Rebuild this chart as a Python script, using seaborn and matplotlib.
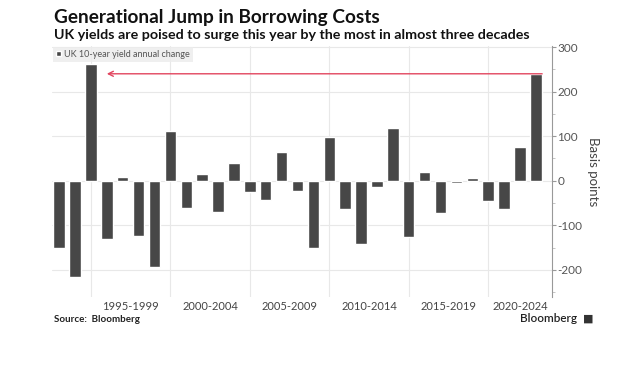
import matplotlib
matplotlib.use("Agg")
import matplotlib.pyplot as plt
import seaborn as sns
import pandas as pd

years = list(range(1992, 2023))
changes = [-151, -216, 261, -130, 8, -123, -194, 111, -61, 16, -69, 41, -26,
           -44, 64, -24, -150, 98, -63, -142, -15, 118, -127, 19, -73, -5, 7,
           -46, -63, 76, 240]
period_labels = ["1995-1999", "2000-2004", "2005-2009", "2010-2014",
                 "2015-2019", "2020-2024"]
period_label_pos = [1996.5, 2001.5, 2006.5, 2011.5, 2016.5, 2021.0]
period_edges = [1994, 1999, 2004, 2009, 2014, 2019]
yticks = [-200, -100, 0, 100, 200, 300]
series_name = "UK 10-year yield annual change"

sns.set_style("white")
plt.rcParams["font.family"] = ["Lato", "DejaVu Sans"]

df = pd.DataFrame({"year": years, "change": changes})

fig = plt.figure(figsize=(6.24, 3.9), dpi=100)
ax = fig.add_axes([52 / 624, 1 - 296.7 / 390, (551.7 - 52) / 624, (296.7 - 45.7) / 390])

for y in yticks:
    ax.axhline(y, color="#e8e8e8", lw=0.8, zorder=0)
for x in period_edges:
    ax.axvline(x, color="#e8e8e8", lw=0.8, zorder=0)

sns.barplot(data=df, x="year", y="change", native_scale=True, color="#474747",
            saturation=1, width=0.72, ax=ax, label=series_name, zorder=2)

ax.set_xlim(1991.55, 2023.0)
ax.set_ylim(-260, 303)

ax.annotate("", xy=(1995.0, 240), xytext=(2022.4, 240),
            arrowprops=dict(arrowstyle="->", color="#e2455f", lw=1.0,
                            shrinkA=0, shrinkB=0, mutation_scale=9), zorder=3)

ax.set_xticks(period_label_pos)
ax.set_xticklabels(period_labels, fontsize=8, color="#444444")
ax.tick_params(axis="x", length=0, pad=3)

ax.yaxis.tick_right()
ax.yaxis.set_label_position("right")
ax.set_yticks(yticks)
ax.set_yticklabels([str(v) for v in yticks], fontsize=8.5, color="#555555")
ax.set_yticks([-250, -150, -50, 50, 150, 250], minor=True)
ax.tick_params(axis="y", which="major", length=3, width=0.8, color="#999999", pad=1, direction="out")
ax.tick_params(axis="y", which="minor", length=2, width=0.6, color="#bbbbbb", direction="out")
ax.set_ylabel("Basis points", rotation=270, labelpad=12, fontsize=9.5, color="#444444")
ax.set_xlabel("")

for s in ["left", "top", "bottom"]:
    ax.spines[s].set_visible(False)
ax.spines["right"].set_color("#999999")
ax.spines["right"].set_linewidth(0.8)

leg = ax.legend(loc="upper left", bbox_to_anchor=(0.0, 1.0), frameon=True,
                fontsize=6.5, handlelength=0.6, handleheight=0.6,
                handletextpad=0.3, borderpad=0.35, borderaxespad=0.1,
                fancybox=False)
leg.get_frame().set_facecolor("#ececec")
leg.get_frame().set_edgecolor("none")
for t in leg.get_texts():
    t.set_color("#555555")

fig.text(54 / 624, 1 - 18 / 390, "Generational Jump in Borrowing Costs",
         fontsize=13.7, fontweight="bold", color="#111111", va="center")
fig.text(54 / 624, 1 - 35 / 390,
         "UK yields are poised to surge this year by the most in almost three decades",
         fontsize=10.3, fontweight="bold", color="#111111", va="center")
fig.text(54 / 624, 1 - 319 / 390, "Source:  Bloomberg", fontsize=7,
         fontweight="bold", color="#222222", va="center")
fig.text(577 / 624, 1 - 319 / 390, "Bloomberg", fontsize=8.5,
         fontweight="semibold", color="#222222", va="center", ha="right")
fig.text(583 / 624, 1 - 319 / 390, "\u25A0", fontsize=8, color="#333333",
         va="center", family=["DejaVu Sans"])

fig.savefig("out.png", dpi=100, facecolor="white")
